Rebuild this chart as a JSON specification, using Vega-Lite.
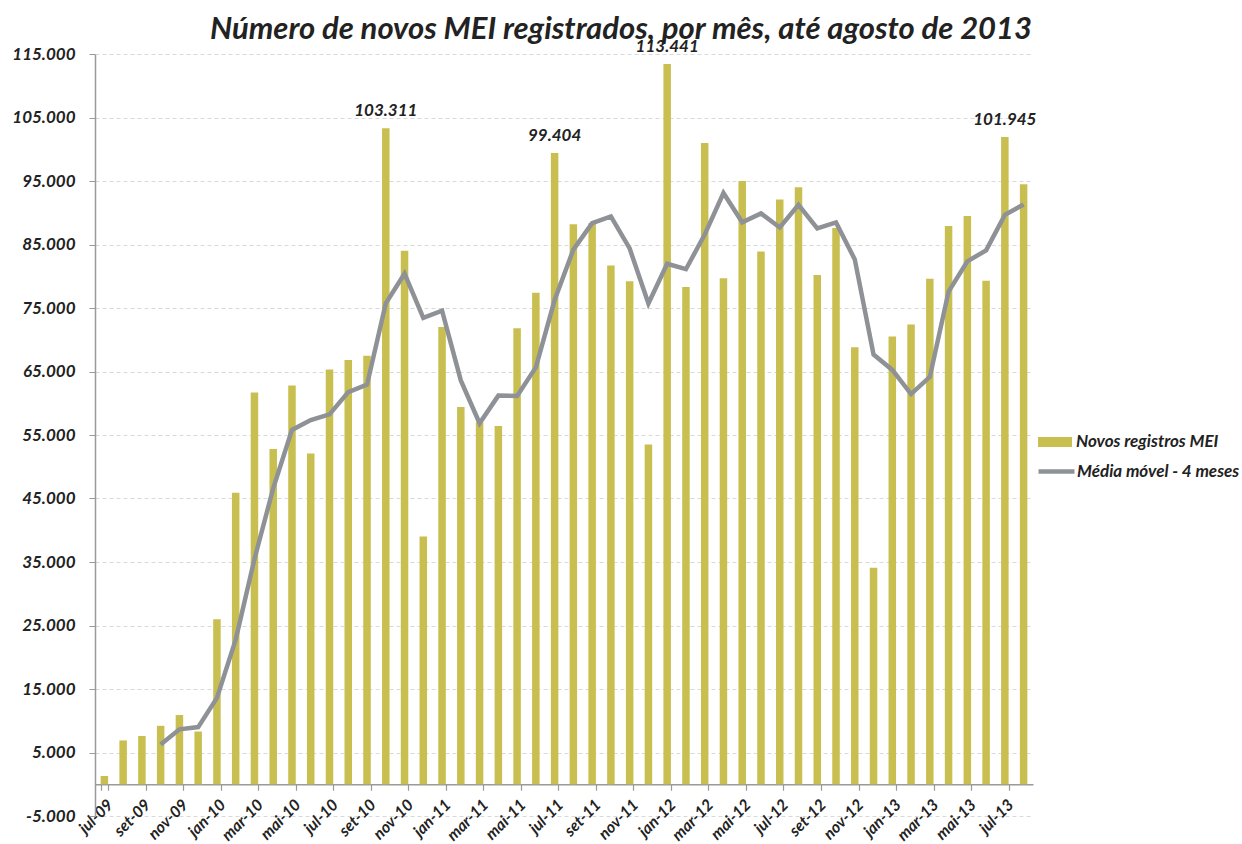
{
 "$schema": "https://vega.github.io/schema/vega-lite/v6.json",
 "width": 938, "height": 762,
 "autosize": {"type": "none"},
 "padding": {"left": 95, "top": 54, "right": 209, "bottom": 28},
 "background": "white",
 "title": {"text": "Número de novos MEI registrados, por mês, até agosto de 2013", "font": "Lato", "fontSize": 31, "fontStyle": "italic", "fontWeight": "bold", "color": "#222222", "anchor": "middle", "dx": 57, "offset": -8},
 "config": {"view": {"stroke": null}, "font": "Lato"},
 "data": {"values": [
  {"mes": "jul-09", "novos": 1300, "media": null, "rotulo": ""},
  {"mes": "ago-09", "novos": 6900, "media": null, "rotulo": ""},
  {"mes": "set-09", "novos": 7600, "media": null, "rotulo": ""},
  {"mes": "out-09", "novos": 9200, "media": 6250, "rotulo": ""},
  {"mes": "nov-09", "novos": 10900, "media": 8650, "rotulo": ""},
  {"mes": "dez-09", "novos": 8300, "media": 9000, "rotulo": ""},
  {"mes": "jan-10", "novos": 26000, "media": 13600, "rotulo": ""},
  {"mes": "fev-10", "novos": 45900, "media": 22775, "rotulo": ""},
  {"mes": "mar-10", "novos": 61700, "media": 35475, "rotulo": ""},
  {"mes": "abr-10", "novos": 52800, "media": 46600, "rotulo": ""},
  {"mes": "mai-10", "novos": 62800, "media": 55800, "rotulo": ""},
  {"mes": "jun-10", "novos": 52100, "media": 57350, "rotulo": ""},
  {"mes": "jul-10", "novos": 65300, "media": 58250, "rotulo": ""},
  {"mes": "ago-10", "novos": 66800, "media": 61750, "rotulo": ""},
  {"mes": "set-10", "novos": 67500, "media": 62925, "rotulo": ""},
  {"mes": "out-10", "novos": 103311, "media": 75728, "rotulo": "103.311"},
  {"mes": "nov-10", "novos": 84000, "media": 80403, "rotulo": ""},
  {"mes": "dez-10", "novos": 39000, "media": 73453, "rotulo": ""},
  {"mes": "jan-11", "novos": 72000, "media": 74578, "rotulo": ""},
  {"mes": "fev-11", "novos": 59400, "media": 63600, "rotulo": ""},
  {"mes": "mar-11", "novos": 57000, "media": 56850, "rotulo": ""},
  {"mes": "abr-11", "novos": 56400, "media": 61200, "rotulo": ""},
  {"mes": "mai-11", "novos": 71800, "media": 61150, "rotulo": ""},
  {"mes": "jun-11", "novos": 77400, "media": 65650, "rotulo": ""},
  {"mes": "jul-11", "novos": 99404, "media": 76251, "rotulo": "99.404"},
  {"mes": "ago-11", "novos": 88200, "media": 84201, "rotulo": ""},
  {"mes": "set-11", "novos": 88400, "media": 88351, "rotulo": ""},
  {"mes": "out-11", "novos": 81700, "media": 89426, "rotulo": ""},
  {"mes": "nov-11", "novos": 79200, "media": 84375, "rotulo": ""},
  {"mes": "dez-11", "novos": 53500, "media": 75700, "rotulo": ""},
  {"mes": "jan-12", "novos": 113441, "media": 81960, "rotulo": "113.441"},
  {"mes": "fev-12", "novos": 78300, "media": 81110, "rotulo": ""},
  {"mes": "mar-12", "novos": 101000, "media": 86560, "rotulo": ""},
  {"mes": "abr-12", "novos": 79700, "media": 93110, "rotulo": ""},
  {"mes": "mai-12", "novos": 95000, "media": 88500, "rotulo": ""},
  {"mes": "jun-12", "novos": 83900, "media": 89900, "rotulo": ""},
  {"mes": "jul-12", "novos": 92100, "media": 87675, "rotulo": ""},
  {"mes": "ago-12", "novos": 94000, "media": 91250, "rotulo": ""},
  {"mes": "set-12", "novos": 80200, "media": 87550, "rotulo": ""},
  {"mes": "out-12", "novos": 87600, "media": 88475, "rotulo": ""},
  {"mes": "nov-12", "novos": 68800, "media": 82650, "rotulo": ""},
  {"mes": "dez-12", "novos": 34100, "media": 67675, "rotulo": ""},
  {"mes": "jan-13", "novos": 70500, "media": 65250, "rotulo": ""},
  {"mes": "fev-13", "novos": 72400, "media": 61450, "rotulo": ""},
  {"mes": "mar-13", "novos": 79600, "media": 64150, "rotulo": ""},
  {"mes": "abr-13", "novos": 87900, "media": 77600, "rotulo": ""},
  {"mes": "mai-13", "novos": 89500, "media": 82350, "rotulo": ""},
  {"mes": "jun-13", "novos": 79300, "media": 84075, "rotulo": ""},
  {"mes": "jul-13", "novos": 101945, "media": 89661, "rotulo": "101.945"},
  {"mes": "ago-13", "novos": 94500, "media": 91311, "rotulo": ""}
 ]},
 "encoding": {
  "x": {"field": "mes", "type": "ordinal", "sort": null,
   "scale": {"paddingInner": 0.6, "paddingOuter": 0.3},
   "axis": {"title": null,
    "values": ["jul-09","set-09","nov-09","jan-10","mar-10","mai-10","jul-10","set-10","nov-10","jan-11","mar-11","mai-11","jul-11","set-11","nov-11","jan-12","mar-12","mai-12","jul-12","set-12","nov-12","jan-13","mar-13","mai-13","jul-13"],
    "labelAngle": -45, "labelFont": "Lato", "labelFontSize": 16, "labelFontStyle": "italic", "labelFontWeight": "bold", "labelColor": "#222222",
    "offset": -31.75, "tickBand": "extent", "tickSize": 6, "domainColor": "#9a9a9a", "tickColor": "#9a9a9a", "domainWidth": 1.5, "tickWidth": 1.2, "grid": false, "labelPadding": 6}},
  "y": {"type": "quantitative",
   "scale": {"domain": [-5000, 115000], "nice": false, "zero": false},
   "axis": {"title": null,
    "values": [-5000, 5000, 15000, 25000, 35000, 45000, 55000, 65000, 75000, 85000, 95000, 105000, 115000],
    "labelExpr": "datum.value < 0 ? '-' + replace(format(-datum.value, ','), ',', '.') : replace(format(datum.value, ','), ',', '.')",
    "labelFont": "Lato", "labelFontSize": 17, "labelFontStyle": "italic", "labelFontWeight": "bold", "labelColor": "#222222",
    "labelPadding": 14, "tickSize": 6, "tickColor": "#9a9a9a", "domainColor": "#9a9a9a", "domainWidth": 1.5,
    "grid": true, "gridColor": "#d9d9d9", "gridDash": [4, 3], "gridWidth": 1}}
 },
 "layer": [
  {"mark": {"type": "bar", "color": "#c9bf50"},
   "encoding": {
    "y": {"field": "novos"},
    "color": {"datum": "Novos registros MEI", "scale": {"range": ["#c9bf50"]},
     "legend": {"title": null, "orient": "none", "legendX": 943, "legendY": 371, "padding": 0,
      "symbolType": "M-1,-0.3H1V0.3H-1Z", "symbolSize": 1156, "symbolStrokeWidth": 0,
      "labelFont": "Lato", "labelFontSize": 17, "labelFontStyle": "italic", "labelFontWeight": "bold", "labelColor": "#222222", "labelOffset": 4, "labelLimit": 300}}
   }},
  {"mark": {"type": "line", "strokeWidth": 4.5},
   "encoding": {
    "y": {"field": "media"},
    "stroke": {"datum": "Média móvel - 4 meses", "scale": {"range": ["#8e9297"]},
     "legend": {"title": null, "orient": "none", "legendX": 941, "legendY": 397, "padding": 0,
      "symbolType": "stroke", "symbolSize": 1296, "symbolStrokeWidth": 4.5,
      "labelFont": "Lato", "labelFontSize": 17, "labelFontStyle": "italic", "labelFontWeight": "bold", "labelColor": "#222222", "labelOffset": 0, "labelLimit": 300}}
   }},
  {"transform": [{"filter": "datum.rotulo != ''"}],
   "mark": {"type": "text", "font": "Lato", "fontSize": 17, "fontStyle": "italic", "fontWeight": "bold", "color": "#222222", "baseline": "bottom", "dy": -8},
   "encoding": {
    "y": {"field": "novos"},
    "text": {"field": "rotulo"}
   }}
 ]
}
